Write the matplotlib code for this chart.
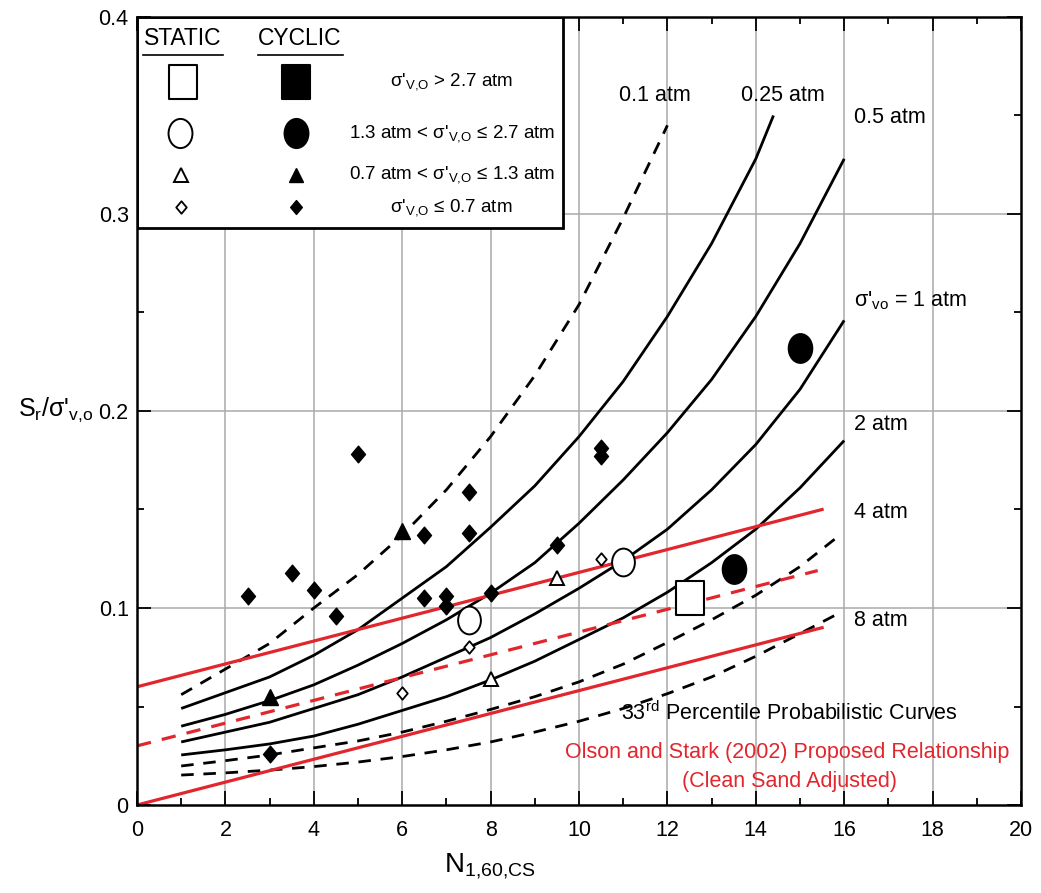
import matplotlib
matplotlib.use("Agg")
import matplotlib.pyplot as plt
from matplotlib import font_manager
from matplotlib.markers import MarkerStyle
from matplotlib.path import Path
from matplotlib.transforms import Affine2D
from matplotlib.patches import Rectangle
from matplotlib.ticker import MultipleLocator, FixedLocator

# ---- fonts ----
_names = {f.name for f in font_manager.fontManager.ttflist}
FONT = "Liberation Sans Narrow" if "Liberation Sans Narrow" in _names else "Liberation Sans"
plt.rcParams["font.family"] = [FONT, "DejaVu Sans"]
plt.rcParams["mathtext.default"] = "regular"

# ---- 33rd percentile probabilistic curves (Sr / sigma'vo vs N1,60,CS) ----
n_01 = [1, 2, 3, 4, 5, 6, 7, 8, 9, 10, 11, 12]
sr_01 = [0.056, 0.069, 0.082, 0.100, 0.117, 0.137, 0.160, 0.187, 0.218, 0.254, 0.298, 0.345]

n_025 = [1, 2, 3, 4, 5, 6, 7, 8, 9, 10, 11, 12, 13, 14, 14.4]
sr_025 = [0.049, 0.057, 0.065, 0.076, 0.089, 0.105, 0.121, 0.141, 0.162, 0.187, 0.215,
          0.248, 0.285, 0.328, 0.350]

n_05 = [1, 2, 3, 4, 5, 6, 7, 8, 9, 10, 11, 12, 13, 14, 15, 16]
sr_05 = [0.040, 0.046, 0.053, 0.061, 0.071, 0.082, 0.094, 0.1075, 0.123, 0.143, 0.165,
         0.189, 0.216, 0.248, 0.285, 0.328]

n_1 = [1, 2, 3, 4, 5, 6, 7, 8, 9, 10, 11, 12, 13, 14, 15, 16]
sr_1 = [0.032, 0.037, 0.042, 0.049, 0.056, 0.065, 0.075, 0.085, 0.097, 0.110, 0.124,
        0.140, 0.160, 0.183, 0.211, 0.246]

n_2 = [1, 2, 3, 4, 5, 6, 7, 8, 9, 10, 11, 12, 13, 14, 15, 16]
sr_2 = [0.0254, 0.028, 0.031, 0.035, 0.041, 0.048, 0.055, 0.0635, 0.073, 0.084, 0.095,
        0.108, 0.123, 0.140, 0.161, 0.185]

n_4 = [1, 2, 3, 4, 5, 6, 7, 8, 9, 10, 11, 12, 13, 14, 15, 15.9]
sr_4 = [0.0198, 0.0225, 0.0254, 0.029, 0.0325, 0.037, 0.0425, 0.0485, 0.055, 0.0625,
        0.0715, 0.0825, 0.094, 0.1065, 0.121, 0.137]

n_8 = [1, 2, 3, 4, 5, 6, 7, 8, 9, 10, 11, 12, 13, 14, 15, 15.8]
sr_8 = [0.0152, 0.0163, 0.0177, 0.0195, 0.0218, 0.0246, 0.028, 0.032, 0.037, 0.0425,
        0.049, 0.0565, 0.065, 0.0755, 0.087, 0.0964]

# ---- Olson and Stark (2002) relationship, clean sand adjusted ----
os_n = [0, 15.5]
os_upper = [0.060, 0.150]
os_mid_n = [0, 15.4]
os_mid = [0.030, 0.119]
os_lower = [0.0, 0.090]

# ---- case histories ----
cyc_diamond_n = [2.5, 3.0, 3.5, 4.0, 4.5, 5.0, 6.5, 6.5, 7.0, 7.0, 7.5, 7.5, 8.0, 9.5, 10.5, 10.5]
cyc_diamond_sr = [0.106, 0.026, 0.118, 0.109, 0.096, 0.178, 0.137, 0.105, 0.106, 0.101,
                  0.159, 0.138, 0.1075, 0.132, 0.181, 0.177]
cyc_tri_n = [3.0, 6.0]
cyc_tri_sr = [0.055, 0.139]
cyc_circle_n = [13.5, 15.0]
cyc_circle_sr = [0.120, 0.232]

sta_diamond_n = [6.0, 7.5, 10.5]
sta_diamond_sr = [0.057, 0.080, 0.125]
sta_tri_n = [8.0, 9.5]
sta_tri_sr = [0.064, 0.115]
sta_circle_n = [7.5, 11.0]
sta_circle_sr = [0.094, 0.1235]
sta_square_n = [12.5]
sta_square_sr = [0.105]

# ---- marker shapes (slightly taller than wide) ----
CIRCLE = MarkerStyle(Path.unit_circle().transformed(Affine2D().scale(0.82, 1.0)))
SQUARE = MarkerStyle(Path([(-0.42, -0.5), (0.42, -0.5), (0.42, 0.5), (-0.42, 0.5), (-0.42, -0.5)],
                          [Path.MOVETO, Path.LINETO, Path.LINETO, Path.LINETO, Path.CLOSEPOLY]))
DIAMOND = MarkerStyle(Path([(0, -0.5), (0.42, 0), (0, 0.5), (-0.42, 0), (0, -0.5)],
                           [Path.MOVETO, Path.LINETO, Path.LINETO, Path.LINETO, Path.CLOSEPOLY]))

RED = "#e1262d"
GRID = "#a9a9a9"

fig = plt.figure(figsize=(10.41, 8.93), dpi=100)
ax = fig.add_axes([137 / 1041, 88 / 893, 884 / 1041, 788 / 893])
ax.set_xlim(0, 20)
ax.set_ylim(0, 0.4)

# grid
for gx in range(2, 20, 2):
    ax.axvline(gx, color=GRID, lw=1.1, zorder=0)
for gy in (0.1, 0.2, 0.3):
    ax.axhline(gy, color=GRID, lw=1.1, zorder=0)

# probabilistic curves
blk = dict(color="black", lw=2.0, zorder=3, solid_capstyle="butt")
dash = (0, (4.5, 3.5))
ax.plot(n_01, sr_01, linestyle=dash, **blk)
ax.plot(n_025, sr_025, **blk)
ax.plot(n_05, sr_05, **blk)
ax.plot(n_1, sr_1, **blk)
ax.plot(n_2, sr_2, **blk)
ax.plot(n_4, sr_4, linestyle=dash, **blk)
ax.plot(n_8, sr_8, linestyle=dash, **blk)

# Olson and Stark lines
ax.plot(os_n, os_upper, color=RED, lw=2.3, zorder=4)
ax.plot(os_mid_n, os_mid, color=RED, lw=2.3, linestyle=(0, (4.5, 3.5)), zorder=4)
ax.plot(os_n, os_lower, color=RED, lw=2.3, zorder=4)

# case history markers
mk = dict(linestyle="none", zorder=6, markeredgecolor="black")
ax.plot(cyc_diamond_n, cyc_diamond_sr, marker=DIAMOND, ms=12, mfc="black", mew=1.0, **mk)
ax.plot(cyc_tri_n, cyc_tri_sr, marker="^", ms=11, mfc="black", mew=1.0, **mk)
ax.plot(cyc_circle_n, cyc_circle_sr, marker=CIRCLE, ms=21, mfc="black", mew=1.2, **mk)
ax.plot(sta_diamond_n, sta_diamond_sr, marker=DIAMOND, ms=9, mfc="white", mew=1.3, **mk)
ax.plot(sta_tri_n, sta_tri_sr, marker="^", ms=10, mfc="white", mew=1.4, **mk)
ax.plot(sta_circle_n, sta_circle_sr, marker=CIRCLE, ms=20, mfc="white", mew=1.4, **mk)
ax.plot(sta_square_n, sta_square_sr, marker=SQUARE, ms=24, mfc="white", mew=1.5, **mk)

# curve labels
lab = dict(fontsize=15.5, color="black", zorder=7)
ax.text(11.72, 0.3604, "0.1 atm", ha="center", va="center", **lab)
ax.text(14.62, 0.3604, "0.25 atm", ha="center", va="center", **lab)
ax.text(16.22, 0.349, "0.5 atm", ha="left", va="center", **lab)
ax.text(16.22, 0.256, "σ'$_{vo}$ = 1 atm", ha="left", va="center", **lab)
ax.text(16.22, 0.193, "2 atm", ha="left", va="center", **lab)
ax.text(16.22, 0.1487, "4 atm", ha="left", va="center", **lab)
ax.text(16.22, 0.0939, "8 atm", ha="left", va="center", **lab)
ax.text(14.75, 0.0467, "33$^{rd}$ Percentile Probabilistic Curves", ha="center", va="center",
        fontsize=15.5, color="black", zorder=7)
ax.text(14.72, 0.0269, "Olson and Stark (2002) Proposed Relationship", ha="center", va="center",
        fontsize=15.5, color=RED, zorder=7)
ax.text(14.77, 0.0117, "(Clean Sand Adjusted)", ha="center", va="center",
        fontsize=15.5, color=RED, zorder=7)

# key box
ax.add_patch(Rectangle((0, 0.2929), 9.64, 0.1071, facecolor="white", edgecolor="black",
                       lw=2.0, zorder=8))
kz = dict(linestyle="none", zorder=9, markeredgecolor="black")
ax.text(1.04, 0.389, "STATIC", ha="center", va="center", fontsize=16.5, zorder=9)
ax.text(3.69, 0.389, "CYCLIC", ha="center", va="center", fontsize=16.5, zorder=9)
ax.plot([0.14, 1.94], [0.3805, 0.3805], color="black", lw=1.2, zorder=9)
ax.plot([2.74, 4.66], [0.3805, 0.3805], color="black", lw=1.2, zorder=9)
ax.plot([1.04], [0.367], marker=SQUARE, ms=24, mfc="white", mew=1.5, **kz)
ax.plot([3.6], [0.367], marker=SQUARE, ms=24, mfc="black", mew=1.5, **kz)
ax.plot([0.97], [0.341], marker=CIRCLE, ms=21, mfc="white", mew=1.4, **kz)
ax.plot([3.6], [0.341], marker=CIRCLE, ms=21, mfc="black", mew=1.4, **kz)
ax.plot([1.0], [0.320], marker="^", ms=10, mfc="white", mew=1.4, **kz)
ax.plot([3.6], [0.320], marker="^", ms=10, mfc="black", mew=1.0, **kz)
ax.plot([1.0], [0.3035], marker=DIAMOND, ms=9, mfc="white", mew=1.3, **kz)
ax.plot([3.6], [0.3035], marker=DIAMOND, ms=10, mfc="black", mew=1.0, **kz)
kt = dict(ha="center", va="center", fontsize=13.5, zorder=9)
ax.text(7.12, 0.367, "σ'$_{V{,}O}$ > 2.7 atm", **kt)
ax.text(7.12, 0.341, "1.3 atm < σ'$_{V{,}O}$ ≤ 2.7 atm", **kt)
ax.text(7.12, 0.320, "0.7 atm < σ'$_{V{,}O}$ ≤ 1.3 atm", **kt)
ax.text(7.12, 0.3035, "σ'$_{V{,}O}$ ≤ 0.7 atm", **kt)

# axes, ticks
for s in ax.spines.values():
    s.set_linewidth(1.8)
    s.set_zorder(10)
ax.xaxis.set_major_locator(MultipleLocator(2))
ax.xaxis.set_minor_locator(MultipleLocator(1))
ax.yaxis.set_major_locator(FixedLocator([0, 0.1, 0.2, 0.3, 0.4]))
ax.yaxis.set_minor_locator(MultipleLocator(0.05))
ax.set_yticklabels(["0", "0.1", "0.2", "0.3", "0.4"])
ax.tick_params(which="both", direction="in", top=True, right=True, width=1.3, labelsize=15.5)
ax.tick_params(which="major", length=10)
ax.tick_params(axis="x", which="major", pad=11)
ax.tick_params(axis="y", which="major", pad=6)
ax.tick_params(which="minor", length=5)

fig.text(93 / 1041, (893 - 410) / 893, "S$_{r}$/σ'$_{v{,}o}$", ha="right", va="center", fontsize=18)
fig.text(490 / 1041, (893 - 866) / 893, "N$_{1{,}60{,}CS}$", ha="center", va="center", fontsize=20)

fig.savefig("out.png", dpi=100)
